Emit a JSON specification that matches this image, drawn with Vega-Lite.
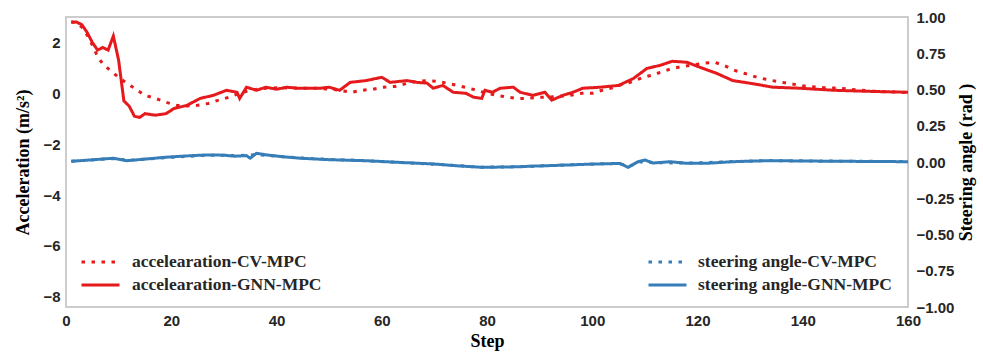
{
  "$schema": "https://vega.github.io/schema/vega-lite/v6.json",
  "width": 842,
  "height": 290,
  "autosize": {"type": "none"},
  "padding": {"left": 66, "top": 17, "right": 75, "bottom": 47},
  "background": "white",
  "datasets": {
    "acc": [
      {"step": 1, "value": 2.8, "series": "accelearation-GNN-MPC"},
      {"step": 2, "value": 2.8, "series": "accelearation-GNN-MPC"},
      {"step": 3, "value": 2.7, "series": "accelearation-GNN-MPC"},
      {"step": 4, "value": 2.4, "series": "accelearation-GNN-MPC"},
      {"step": 5, "value": 2.0, "series": "accelearation-GNN-MPC"},
      {"step": 6, "value": 1.7, "series": "accelearation-GNN-MPC"},
      {"step": 7, "value": 1.8, "series": "accelearation-GNN-MPC"},
      {"step": 8, "value": 1.7, "series": "accelearation-GNN-MPC"},
      {"step": 9, "value": 2.25, "series": "accelearation-GNN-MPC"},
      {"step": 10, "value": 1.3, "series": "accelearation-GNN-MPC"},
      {"step": 11, "value": -0.3, "series": "accelearation-GNN-MPC"},
      {"step": 12, "value": -0.5, "series": "accelearation-GNN-MPC"},
      {"step": 13, "value": -0.9, "series": "accelearation-GNN-MPC"},
      {"step": 14, "value": -0.95, "series": "accelearation-GNN-MPC"},
      {"step": 15, "value": -0.8, "series": "accelearation-GNN-MPC"},
      {"step": 17, "value": -0.86, "series": "accelearation-GNN-MPC"},
      {"step": 19, "value": -0.8, "series": "accelearation-GNN-MPC"},
      {"step": 20.5, "value": -0.6, "series": "accelearation-GNN-MPC"},
      {"step": 23, "value": -0.47, "series": "accelearation-GNN-MPC"},
      {"step": 25.5, "value": -0.2, "series": "accelearation-GNN-MPC"},
      {"step": 28, "value": -0.08, "series": "accelearation-GNN-MPC"},
      {"step": 30.5, "value": 0.12, "series": "accelearation-GNN-MPC"},
      {"step": 32.5, "value": 0.04, "series": "accelearation-GNN-MPC"},
      {"step": 33, "value": -0.2, "series": "accelearation-GNN-MPC"},
      {"step": 34.3, "value": 0.24, "series": "accelearation-GNN-MPC"},
      {"step": 36.2, "value": 0.12, "series": "accelearation-GNN-MPC"},
      {"step": 38, "value": 0.24, "series": "accelearation-GNN-MPC"},
      {"step": 40, "value": 0.16, "series": "accelearation-GNN-MPC"},
      {"step": 42, "value": 0.24, "series": "accelearation-GNN-MPC"},
      {"step": 44, "value": 0.2, "series": "accelearation-GNN-MPC"},
      {"step": 46, "value": 0.2, "series": "accelearation-GNN-MPC"},
      {"step": 48.3, "value": 0.2, "series": "accelearation-GNN-MPC"},
      {"step": 50, "value": 0.24, "series": "accelearation-GNN-MPC"},
      {"step": 52, "value": 0.12, "series": "accelearation-GNN-MPC"},
      {"step": 54, "value": 0.43, "series": "accelearation-GNN-MPC"},
      {"step": 57, "value": 0.5, "series": "accelearation-GNN-MPC"},
      {"step": 60, "value": 0.63, "series": "accelearation-GNN-MPC"},
      {"step": 61.6, "value": 0.43, "series": "accelearation-GNN-MPC"},
      {"step": 64.8, "value": 0.5, "series": "accelearation-GNN-MPC"},
      {"step": 66.7, "value": 0.43, "series": "accelearation-GNN-MPC"},
      {"step": 68.6, "value": 0.4, "series": "accelearation-GNN-MPC"},
      {"step": 69.8, "value": 0.2, "series": "accelearation-GNN-MPC"},
      {"step": 71.6, "value": 0.31, "series": "accelearation-GNN-MPC"},
      {"step": 73.6, "value": 0.04, "series": "accelearation-GNN-MPC"},
      {"step": 76, "value": 0.0, "series": "accelearation-GNN-MPC"},
      {"step": 77.4, "value": -0.15, "series": "accelearation-GNN-MPC"},
      {"step": 79, "value": -0.2, "series": "accelearation-GNN-MPC"},
      {"step": 79.6, "value": 0.12, "series": "accelearation-GNN-MPC"},
      {"step": 81, "value": 0.04, "series": "accelearation-GNN-MPC"},
      {"step": 82.5, "value": 0.2, "series": "accelearation-GNN-MPC"},
      {"step": 85, "value": 0.24, "series": "accelearation-GNN-MPC"},
      {"step": 86.3, "value": 0.04, "series": "accelearation-GNN-MPC"},
      {"step": 88.7, "value": -0.08, "series": "accelearation-GNN-MPC"},
      {"step": 91, "value": 0.04, "series": "accelearation-GNN-MPC"},
      {"step": 92.3, "value": -0.27, "series": "accelearation-GNN-MPC"},
      {"step": 94.4, "value": -0.08, "series": "accelearation-GNN-MPC"},
      {"step": 96.3, "value": 0.04, "series": "accelearation-GNN-MPC"},
      {"step": 98.2, "value": 0.2, "series": "accelearation-GNN-MPC"},
      {"step": 101.5, "value": 0.24, "series": "accelearation-GNN-MPC"},
      {"step": 105, "value": 0.31, "series": "accelearation-GNN-MPC"},
      {"step": 107.8, "value": 0.58, "series": "accelearation-GNN-MPC"},
      {"step": 110.4, "value": 0.98, "series": "accelearation-GNN-MPC"},
      {"step": 112.9, "value": 1.1, "series": "accelearation-GNN-MPC"},
      {"step": 115.2, "value": 1.26, "series": "accelearation-GNN-MPC"},
      {"step": 118, "value": 1.22, "series": "accelearation-GNN-MPC"},
      {"step": 120.5, "value": 1.02, "series": "accelearation-GNN-MPC"},
      {"step": 123.7, "value": 0.78, "series": "accelearation-GNN-MPC"},
      {"step": 126.7, "value": 0.5, "series": "accelearation-GNN-MPC"},
      {"step": 130.5, "value": 0.38, "series": "accelearation-GNN-MPC"},
      {"step": 134.3, "value": 0.24, "series": "accelearation-GNN-MPC"},
      {"step": 139.5, "value": 0.2, "series": "accelearation-GNN-MPC"},
      {"step": 145.8, "value": 0.12, "series": "accelearation-GNN-MPC"},
      {"step": 152, "value": 0.08, "series": "accelearation-GNN-MPC"},
      {"step": 160, "value": 0.04, "series": "accelearation-GNN-MPC"},
      {"step": 1, "value": 2.8, "series": "accelearation-CV-MPC"},
      {"step": 2, "value": 2.78, "series": "accelearation-CV-MPC"},
      {"step": 3, "value": 2.6, "series": "accelearation-CV-MPC"},
      {"step": 4, "value": 2.3, "series": "accelearation-CV-MPC"},
      {"step": 5, "value": 1.9, "series": "accelearation-CV-MPC"},
      {"step": 6, "value": 1.45, "series": "accelearation-CV-MPC"},
      {"step": 7, "value": 1.15, "series": "accelearation-CV-MPC"},
      {"step": 8.4, "value": 0.9, "series": "accelearation-CV-MPC"},
      {"step": 10, "value": 0.63, "series": "accelearation-CV-MPC"},
      {"step": 11.5, "value": 0.4, "series": "accelearation-CV-MPC"},
      {"step": 13, "value": 0.2, "series": "accelearation-CV-MPC"},
      {"step": 15, "value": -0.08, "series": "accelearation-CV-MPC"},
      {"step": 17, "value": -0.2, "series": "accelearation-CV-MPC"},
      {"step": 19, "value": -0.35, "series": "accelearation-CV-MPC"},
      {"step": 21, "value": -0.47, "series": "accelearation-CV-MPC"},
      {"step": 23, "value": -0.5, "series": "accelearation-CV-MPC"},
      {"step": 25, "value": -0.47, "series": "accelearation-CV-MPC"},
      {"step": 27, "value": -0.4, "series": "accelearation-CV-MPC"},
      {"step": 29, "value": -0.27, "series": "accelearation-CV-MPC"},
      {"step": 31, "value": -0.15, "series": "accelearation-CV-MPC"},
      {"step": 33, "value": 0.0, "series": "accelearation-CV-MPC"},
      {"step": 35, "value": 0.12, "series": "accelearation-CV-MPC"},
      {"step": 38, "value": 0.2, "series": "accelearation-CV-MPC"},
      {"step": 41, "value": 0.22, "series": "accelearation-CV-MPC"},
      {"step": 44, "value": 0.2, "series": "accelearation-CV-MPC"},
      {"step": 48, "value": 0.2, "series": "accelearation-CV-MPC"},
      {"step": 51, "value": 0.15, "series": "accelearation-CV-MPC"},
      {"step": 54.3, "value": 0.04, "series": "accelearation-CV-MPC"},
      {"step": 56.2, "value": 0.12, "series": "accelearation-CV-MPC"},
      {"step": 58.3, "value": 0.16, "series": "accelearation-CV-MPC"},
      {"step": 60.2, "value": 0.24, "series": "accelearation-CV-MPC"},
      {"step": 62.5, "value": 0.27, "series": "accelearation-CV-MPC"},
      {"step": 65, "value": 0.4, "series": "accelearation-CV-MPC"},
      {"step": 66.7, "value": 0.47, "series": "accelearation-CV-MPC"},
      {"step": 68.6, "value": 0.5, "series": "accelearation-CV-MPC"},
      {"step": 70.5, "value": 0.47, "series": "accelearation-CV-MPC"},
      {"step": 72.4, "value": 0.4, "series": "accelearation-CV-MPC"},
      {"step": 74.3, "value": 0.31, "series": "accelearation-CV-MPC"},
      {"step": 75.8, "value": 0.24, "series": "accelearation-CV-MPC"},
      {"step": 78, "value": 0.12, "series": "accelearation-CV-MPC"},
      {"step": 80, "value": 0.0, "series": "accelearation-CV-MPC"},
      {"step": 81.9, "value": -0.08, "series": "accelearation-CV-MPC"},
      {"step": 83.8, "value": -0.15, "series": "accelearation-CV-MPC"},
      {"step": 85.9, "value": -0.2, "series": "accelearation-CV-MPC"},
      {"step": 87.8, "value": -0.2, "series": "accelearation-CV-MPC"},
      {"step": 89.7, "value": -0.15, "series": "accelearation-CV-MPC"},
      {"step": 91.6, "value": -0.15, "series": "accelearation-CV-MPC"},
      {"step": 93.7, "value": -0.12, "series": "accelearation-CV-MPC"},
      {"step": 95.8, "value": -0.08, "series": "accelearation-CV-MPC"},
      {"step": 98, "value": 0.0, "series": "accelearation-CV-MPC"},
      {"step": 100, "value": 0.0, "series": "accelearation-CV-MPC"},
      {"step": 101.9, "value": 0.12, "series": "accelearation-CV-MPC"},
      {"step": 103.8, "value": 0.22, "series": "accelearation-CV-MPC"},
      {"step": 105.7, "value": 0.35, "series": "accelearation-CV-MPC"},
      {"step": 107.5, "value": 0.45, "series": "accelearation-CV-MPC"},
      {"step": 109.7, "value": 0.63, "series": "accelearation-CV-MPC"},
      {"step": 111.5, "value": 0.72, "series": "accelearation-CV-MPC"},
      {"step": 113.4, "value": 0.86, "series": "accelearation-CV-MPC"},
      {"step": 115.3, "value": 0.98, "series": "accelearation-CV-MPC"},
      {"step": 117.3, "value": 1.06, "series": "accelearation-CV-MPC"},
      {"step": 119.2, "value": 1.12, "series": "accelearation-CV-MPC"},
      {"step": 121, "value": 1.18, "series": "accelearation-CV-MPC"},
      {"step": 123.3, "value": 1.22, "series": "accelearation-CV-MPC"},
      {"step": 125.2, "value": 1.08, "series": "accelearation-CV-MPC"},
      {"step": 127.1, "value": 0.9, "series": "accelearation-CV-MPC"},
      {"step": 129, "value": 0.78, "series": "accelearation-CV-MPC"},
      {"step": 131.3, "value": 0.63, "series": "accelearation-CV-MPC"},
      {"step": 133, "value": 0.55, "series": "accelearation-CV-MPC"},
      {"step": 135, "value": 0.47, "series": "accelearation-CV-MPC"},
      {"step": 137, "value": 0.4, "series": "accelearation-CV-MPC"},
      {"step": 140.8, "value": 0.27, "series": "accelearation-CV-MPC"},
      {"step": 144, "value": 0.22, "series": "accelearation-CV-MPC"},
      {"step": 147, "value": 0.2, "series": "accelearation-CV-MPC"},
      {"step": 150, "value": 0.14, "series": "accelearation-CV-MPC"},
      {"step": 153.4, "value": 0.08, "series": "accelearation-CV-MPC"},
      {"step": 156.6, "value": 0.06, "series": "accelearation-CV-MPC"},
      {"step": 160, "value": 0.04, "series": "accelearation-CV-MPC"}
    ],
    "steer": [
      {"step": 1, "value": 0.005, "series": "steering angle-GNN-MPC"},
      {"step": 5, "value": 0.015, "series": "steering angle-GNN-MPC"},
      {"step": 9, "value": 0.026, "series": "steering angle-GNN-MPC"},
      {"step": 11.5, "value": 0.009, "series": "steering angle-GNN-MPC"},
      {"step": 15, "value": 0.02, "series": "steering angle-GNN-MPC"},
      {"step": 19, "value": 0.033, "series": "steering angle-GNN-MPC"},
      {"step": 23, "value": 0.042, "series": "steering angle-GNN-MPC"},
      {"step": 26.8, "value": 0.049, "series": "steering angle-GNN-MPC"},
      {"step": 30, "value": 0.047, "series": "steering angle-GNN-MPC"},
      {"step": 32, "value": 0.04, "series": "steering angle-GNN-MPC"},
      {"step": 34.3, "value": 0.044, "series": "steering angle-GNN-MPC"},
      {"step": 35, "value": 0.026, "series": "steering angle-GNN-MPC"},
      {"step": 36.2, "value": 0.06, "series": "steering angle-GNN-MPC"},
      {"step": 38.1, "value": 0.049, "series": "steering angle-GNN-MPC"},
      {"step": 41, "value": 0.037, "series": "steering angle-GNN-MPC"},
      {"step": 44.5, "value": 0.026, "series": "steering angle-GNN-MPC"},
      {"step": 50, "value": 0.016, "series": "steering angle-GNN-MPC"},
      {"step": 57, "value": 0.009, "series": "steering angle-GNN-MPC"},
      {"step": 63, "value": -0.002, "series": "steering angle-GNN-MPC"},
      {"step": 70, "value": -0.014, "series": "steering angle-GNN-MPC"},
      {"step": 75, "value": -0.028, "series": "steering angle-GNN-MPC"},
      {"step": 79.3, "value": -0.037, "series": "steering angle-GNN-MPC"},
      {"step": 85.6, "value": -0.033, "series": "steering angle-GNN-MPC"},
      {"step": 90, "value": -0.027, "series": "steering angle-GNN-MPC"},
      {"step": 95.2, "value": -0.021, "series": "steering angle-GNN-MPC"},
      {"step": 100, "value": -0.014, "series": "steering angle-GNN-MPC"},
      {"step": 105.3, "value": -0.01, "series": "steering angle-GNN-MPC"},
      {"step": 106.8, "value": -0.037, "series": "steering angle-GNN-MPC"},
      {"step": 108.7, "value": 0.002, "series": "steering angle-GNN-MPC"},
      {"step": 110, "value": 0.014, "series": "steering angle-GNN-MPC"},
      {"step": 111.5, "value": -0.007, "series": "steering angle-GNN-MPC"},
      {"step": 114.8, "value": 0.002, "series": "steering angle-GNN-MPC"},
      {"step": 118, "value": -0.009, "series": "steering angle-GNN-MPC"},
      {"step": 121.8, "value": -0.009, "series": "steering angle-GNN-MPC"},
      {"step": 126.7, "value": 0.002, "series": "steering angle-GNN-MPC"},
      {"step": 133.2, "value": 0.009, "series": "steering angle-GNN-MPC"},
      {"step": 140, "value": 0.007, "series": "steering angle-GNN-MPC"},
      {"step": 145.8, "value": 0.005, "series": "steering angle-GNN-MPC"},
      {"step": 152, "value": 0.004, "series": "steering angle-GNN-MPC"},
      {"step": 160, "value": 0.002, "series": "steering angle-GNN-MPC"},
      {"step": 1, "value": 0.005, "series": "steering angle-CV-MPC"},
      {"step": 9, "value": 0.024, "series": "steering angle-CV-MPC"},
      {"step": 12, "value": 0.012, "series": "steering angle-CV-MPC"},
      {"step": 19, "value": 0.03, "series": "steering angle-CV-MPC"},
      {"step": 27, "value": 0.047, "series": "steering angle-CV-MPC"},
      {"step": 33, "value": 0.045, "series": "steering angle-CV-MPC"},
      {"step": 36, "value": 0.05, "series": "steering angle-CV-MPC"},
      {"step": 40, "value": 0.04, "series": "steering angle-CV-MPC"},
      {"step": 45, "value": 0.027, "series": "steering angle-CV-MPC"},
      {"step": 50, "value": 0.017, "series": "steering angle-CV-MPC"},
      {"step": 57, "value": 0.009, "series": "steering angle-CV-MPC"},
      {"step": 63, "value": -0.003, "series": "steering angle-CV-MPC"},
      {"step": 70, "value": -0.015, "series": "steering angle-CV-MPC"},
      {"step": 79, "value": -0.036, "series": "steering angle-CV-MPC"},
      {"step": 86, "value": -0.033, "series": "steering angle-CV-MPC"},
      {"step": 95, "value": -0.02, "series": "steering angle-CV-MPC"},
      {"step": 105, "value": -0.01, "series": "steering angle-CV-MPC"},
      {"step": 107, "value": -0.03, "series": "steering angle-CV-MPC"},
      {"step": 109, "value": 0.0, "series": "steering angle-CV-MPC"},
      {"step": 112, "value": -0.004, "series": "steering angle-CV-MPC"},
      {"step": 118, "value": -0.008, "series": "steering angle-CV-MPC"},
      {"step": 127, "value": 0.003, "series": "steering angle-CV-MPC"},
      {"step": 133, "value": 0.01, "series": "steering angle-CV-MPC"},
      {"step": 146, "value": 0.006, "series": "steering angle-CV-MPC"},
      {"step": 160, "value": 0.003, "series": "steering angle-CV-MPC"}
    ]
  },
  "layer": [
    {
      "data": {"name": "steer"},
      "mark": {"type": "line", "color": "#377eb8", "strokeWidth": 3, "strokeCap": "butt"},
      "encoding": {
        "x": {"field": "step", "type": "quantitative", "scale": {"domain": [0, 160], "nice": false, "zero": false},
              "axis": {"title": "Step", "values": [0, 20, 40, 60, 80, 100, 120, 140, 160], "labelFlush": false, "labelPadding": 6, "titlePadding": 4}},
        "y": {"field": "value", "type": "quantitative", "scale": {"domain": [-1, 1], "nice": false, "zero": false},
              "axis": {"orient": "right", "title": "Steering angle (rad )", "titleAngle": 270, "titleBaseline": "top", "titlePadding": 4, "values": [-1, -0.75, -0.5, -0.25, 0, 0.25, 0.5, 0.75, 1], "format": ".2f", "labelFlush": false, "labelPadding": 8}},
        "strokeDash": {"field": "series", "type": "nominal",
              "scale": {"domain": ["steering angle-CV-MPC", "steering angle-GNN-MPC"], "range": [[3.5, 6.5], [1, 0]]},
              "legend": {"orient": "none", "legendX": 590.5, "legendY": 234, "title": null, "symbolStrokeColor": "#377eb8", "labelOffset": 19.5}}
      }
    },
    {
      "data": {"name": "acc"},
      "mark": {"type": "line", "color": "#e41a1c", "strokeWidth": 3, "strokeCap": "butt"},
      "encoding": {
        "x": {"field": "step", "type": "quantitative"},
        "y": {"field": "value", "type": "quantitative", "scale": {"domain": [-8.4, 3.0], "nice": false, "zero": false},
              "axis": {"orient": "left", "title": "Acceleration (m/s²)", "titlePadding": 10, "values": [-8, -6, -4, -2, 0, 2], "format": "d", "labelFlush": false, "labelPadding": 6}},
        "strokeDash": {"field": "series", "type": "nominal",
              "scale": {"domain": ["accelearation-CV-MPC", "accelearation-GNN-MPC"], "range": [[3.5, 6.5], [1, 0]]},
              "legend": {"orient": "none", "legendX": 23.5, "legendY": 234, "title": null, "symbolStrokeColor": "#e41a1c", "labelOffset": 20.5}}
      }
    }
  ],
  "resolve": {"scale": {"y": "independent", "strokeDash": "independent"}, "axis": {"y": "independent"}, "legend": {"strokeDash": "independent"}},
  "config": {
    "view": {"stroke": "#cccccc", "strokeWidth": 2},
    "axis": {
      "grid": false, "ticks": false, "domain": false,
      "labelFont": "Liberation Sans", "labelFontWeight": "bold", "labelFontSize": 15, "labelColor": "#262626",
      "titleFont": "Liberation Serif", "titleFontWeight": "bold", "titleFontSize": 18, "titleColor": "#000000"
    },
    "legend": {
      "labelFont": "Liberation Serif", "labelFontWeight": "bold", "labelFontSize": 17.5, "labelColor": "#262626", "labelLimit": 400,
      "symbolType": "M-2,0H2", "symbolSize": 361, "symbolStrokeWidth": 3, "rowPadding": 3, "padding": 0
    }
  }
}
